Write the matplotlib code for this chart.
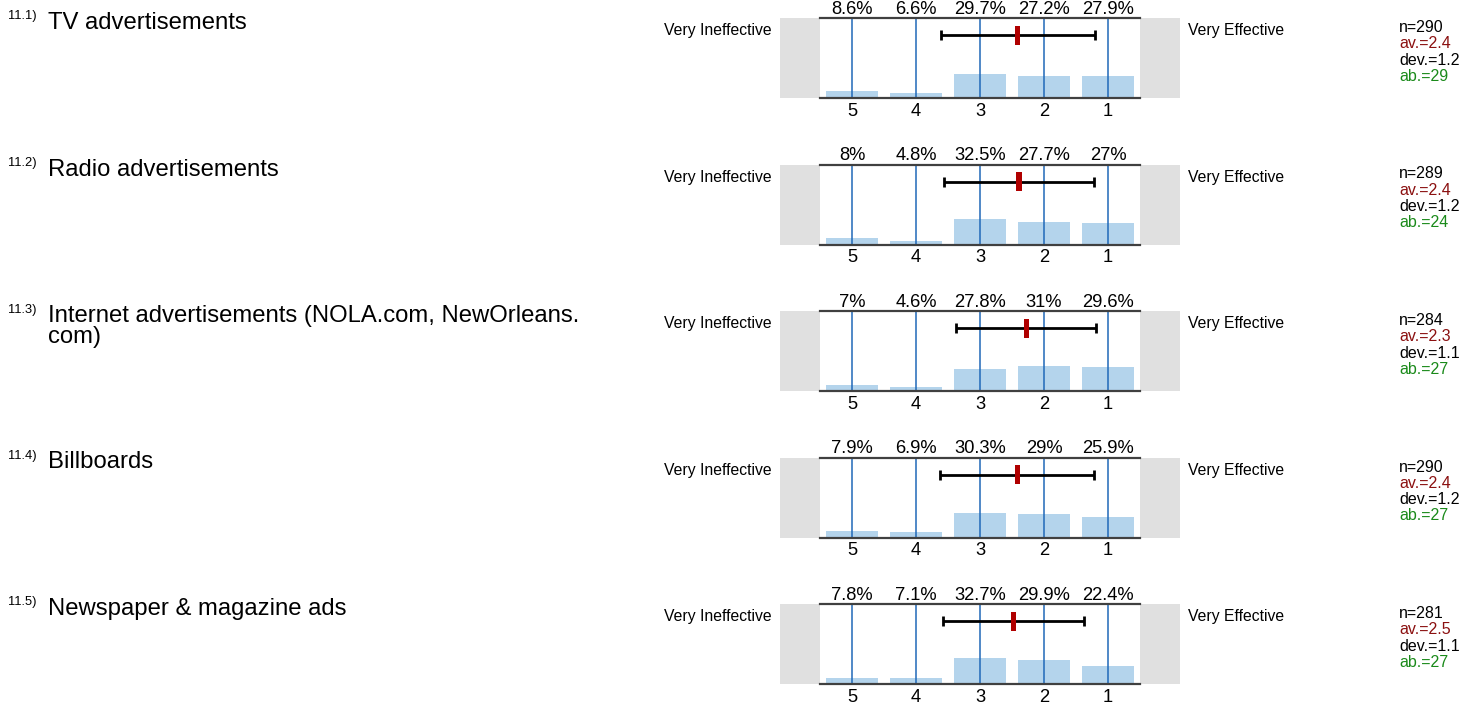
import matplotlib
matplotlib.use("Agg")
import matplotlib.pyplot as plt

plt.rcParams['font.family'] = ['Liberation Sans', 'DejaVu Sans']

W, H = 1479, 707

numbers = ["11.1)", "11.2)", "11.3)", "11.4)", "11.5)"]
titles = [
    "TV advertisements",
    "Radio advertisements",
    "Internet advertisements (NOLA.com, NewOrleans.\ncom)",
    "Billboards",
    "Newspaper & magazine ads",
]
scale_values = [5, 4, 3, 2, 1]
scale_labels = ["5", "4", "3", "2", "1"]
percents = [
    [8.6, 6.6, 29.7, 27.2, 27.9],
    [8.0, 4.8, 32.5, 27.7, 27.0],
    [7.0, 4.6, 27.8, 31.0, 29.6],
    [7.9, 6.9, 30.3, 29.0, 25.9],
    [7.8, 7.1, 32.7, 29.9, 22.4],
]
n_vals = [290, 289, 284, 290, 281]
mean_vals = [2.41, 2.39, 2.28, 2.42, 2.48]
dev_vals = [1.2, 1.17, 1.1, 1.2, 1.1]
av_labels = ["2.4", "2.4", "2.3", "2.4", "2.5"]
dev_labels = ["1.2", "1.2", "1.1", "1.2", "1.1"]
ab_vals = [29, 24, 27, 27, 27]
left_label = "Very Ineffective"
right_label = "Very Effective"


def fx(x):
    return x / W


def fy(y):
    return 1 - y / H


def fmt_pct(p):
    s = f"{p:.1f}"
    if s.endswith(".0"):
        s = s[:-2]
    return s + "%"


fig = plt.figure(figsize=(W / 100, H / 100), dpi=100)

BAR_COLOR = "#b4d4ec"
LINE_COLOR = "#2068b8"
GRAY = "#e0e0e0"

for i in range(5):
    top = 18 + 146.5 * i
    ax = fig.add_axes([fx(780), fy(top + 80), 400 / W, 80 / H])
    ax.set_xlim(6.125, -0.125)
    ax.set_ylim(0, 100)
    ax.axis('off')

    # gray end boxes
    ax.axvspan(6.125, 5.5, 0, 1, color=GRAY, lw=0)
    ax.axvspan(0.5, -0.125, 0, 1, color=GRAY, lw=0)

    # bars
    ax.bar(scale_values, percents[i], width=0.8, bottom=0, color=BAR_COLOR,
           edgecolor='none', zorder=2)
    # vertical lines
    for v in scale_values:
        ax.plot([v, v], [0, 100], color=LINE_COLOR, lw=1.1, zorder=3)
    # top/bottom lines
    ax.plot([5.5, 0.5], [100, 100], color="#404040", lw=1.6, zorder=4, clip_on=False)
    ax.plot([5.5, 0.5], [0, 0], color="#404040", lw=1.6, zorder=4, clip_on=False)

    # error bar
    m, d = mean_vals[i], dev_vals[i]
    ey = 78.5
    ax.plot([m - d, m + d], [ey, ey], color='black', lw=2, zorder=5,
            solid_capstyle='butt')
    for e in (m - d, m + d):
        ax.plot([e, e], [ey - 6.5, ey + 6.5], color='black', lw=2, zorder=5,
                solid_capstyle='butt')
    ax.add_patch(plt.Rectangle((m - 0.04, ey - 12), 0.08, 24, color='#b00000',
                               zorder=6, lw=0))

    # percent labels and tick labels
    for v, p, lab in zip(scale_values, percents[i], scale_labels):
        ax.text(v, 105.6, fmt_pct(p), ha='center', va='baseline', fontsize=13.2,
                clip_on=False)
        ax.text(v, -22, lab, ha='center', va='baseline', fontsize=13.2,
                clip_on=False)

    # side labels
    fig.text(fx(772), fy(top + 17.3), left_label, ha='right', va='baseline', fontsize=11.3)
    fig.text(fx(1188), fy(top + 17.3), right_label, ha='left', va='baseline', fontsize=11.3)

    # stats
    stats = [(f"n={n_vals[i]}", 'black'),
             (f"av.={av_labels[i]}", '#8b1010'),
             (f"dev.={dev_labels[i]}", 'black'),
             (f"ab.={ab_vals[i]}", '#1a8a1a')]
    for k, (s, c) in enumerate(stats):
        fig.text(fx(1399), fy(top + 14 + 16.3 * k), s, ha='left', va='baseline',
                 fontsize=11.5, color=c)

    # titles
    fig.text(fx(8), fy(top + 1.5), numbers[i], ha='left', va='baseline', fontsize=9.3)
    for k, line in enumerate(titles[i].split("\n")):
        fig.text(fx(48), fy(top + 11 + 21.5 * k), line, ha='left', va='baseline',
                 fontsize=17.2)

fig.savefig("out.png", dpi=100)
